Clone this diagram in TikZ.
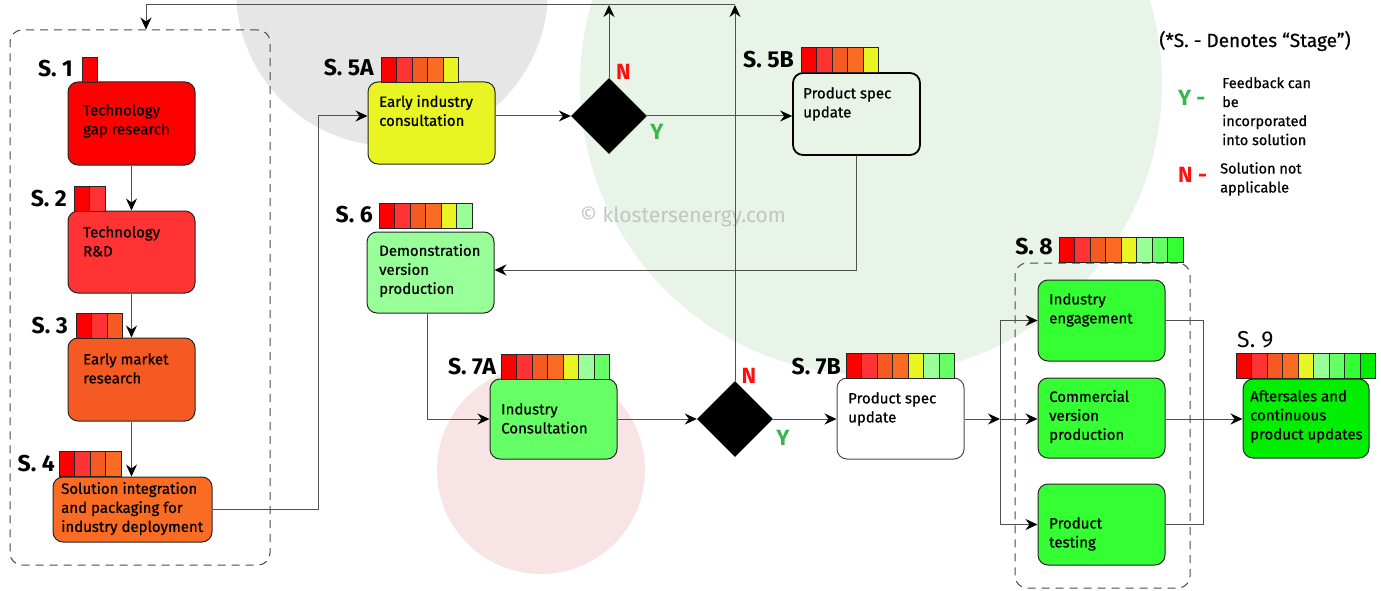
\documentclass[tikz,border=0pt]{standalone}
\usepackage{fontspec}
\setmainfont{Fira Sans}
\newfontfamily\medfont{Fira Sans}[FakeBold=0.6]
\usetikzlibrary{arrows.meta,shapes.geometric}

% stage level colours, from earliest to latest
\definecolor{lvA}{HTML}{FF0000}
\definecolor{lvB}{HTML}{FF3333}
\definecolor{lvC}{HTML}{F55A22}
\definecolor{lvD}{HTML}{FA6B24}
\definecolor{lvE}{HTML}{E8F522}
\definecolor{lvF}{HTML}{99FF99}
\definecolor{lvG}{HTML}{66FF66}
\definecolor{lvH}{HTML}{33FF33}
\definecolor{lvI}{HTML}{00EE00}
\definecolor{bgGray}{HTML}{E6E6E6}
\definecolor{bgGreen}{HTML}{E8F4E8}
\definecolor{bgPink}{HTML}{F8E4E4}
\definecolor{yesGreen}{HTML}{3AB54A}
\definecolor{noRed}{HTML}{FF1010}
\definecolor{wire}{HTML}{505050}
\definecolor{wmGray}{HTML}{C4C4C4}

% row of level cells: x, top y, number of cells
\newcommand{\levelbar}[3]{%
  \foreach \k/\cc in {1/lvA,2/lvB,3/lvC,4/lvD,5/lvE,6/lvF,7/lvG,8/lvH,9/lvI}{%
    \ifnum\k>#3\relax\else
      \filldraw[cellbox, fill=\cc] ({#1+(\k-1)*15.5},#2) rectangle ++(15.5,25);
    \fi}}

\begin{document}
\begin{tikzpicture}[x=1pt,y=-1pt,
  stbox/.style={draw=black!85, line width=1pt, rounded corners=10pt, inner sep=0pt},
  cellbox/.style={draw=black!85, line width=0.7pt},
  txt/.style={font=\medfont\fontsize{15}{19}\selectfont, align=left, inner sep=0pt, anchor=north west},
  stlabel/.style={font=\fontsize{23}{26}\selectfont\bfseries, inner sep=0pt, anchor=east},
  conn/.style={draw=wire, line width=1pt},
  arr/.style={conn, -{Stealth[length=12pt,width=11pt,inset=4pt,color=black]}},
  decision/.style={diamond, fill=black, minimum width=76pt, minimum height=76pt, inner sep=0pt},
  group/.style={draw=black!70, dash pattern=on 8pt off 6pt, line width=1pt, rounded corners=12pt, inner sep=0pt},
  yn/.style={font=\fontsize{22}{24}\selectfont\bfseries, inner sep=0pt},
  legtxt/.style={font=\medfont\fontsize{14.5}{19}\selectfont, align=left, inner sep=0pt, anchor=north west},
]
\useasboundingbox (0,0) rectangle (1381,591);
\fill[white] (0,0) rectangle (1381,591);

% soft background discs
\begin{scope}
  \clip (0,0) rectangle (1381,591);
  \fill[bgGray] (392,-10) circle (156pt);
  \fill[bgGreen] (871,84) circle (291pt);
  \fill[bgPink] (541,470) circle (104pt);
\end{scope}

% watermark
\node[font=\fontsize{21}{24}\selectfont, text=wmGray, inner sep=0pt] (wm) at (683,217) {© klostersenergy.com};

% group frames
\node[group, minimum width=260pt, minimum height=535pt] (grpL) at (140,297.5) {};
\node[group, minimum width=175pt, minimum height=325pt] (grpR) at (1102.5,425.5) {};

% stage boxes
\node[stbox, fill=lvA, minimum width=127pt, minimum height=83pt] (s1) at (131.5,123.5) {};
\node[stbox, fill=lvB, minimum width=127pt, minimum height=82pt] (s2) at (131.5,252) {};
\node[stbox, fill=lvC, minimum width=127pt, minimum height=83pt] (s3) at (131.5,379.5) {};
\node[stbox, fill=lvD, minimum width=159pt, minimum height=65pt] (s4) at (132.5,509.5) {};
\node[stbox, fill=lvE, minimum width=127pt, minimum height=82pt] (s5a) at (431.5,123) {};
\node[stbox, draw=black, line width=1.8pt, minimum width=127pt, minimum height=82pt] (s5b) at (856.5,114) {};
\node[stbox, fill=lvF, minimum width=127pt, minimum height=81pt] (s6) at (430.5,272.5) {};
\node[stbox, fill=lvG, minimum width=127pt, minimum height=80pt] (s7a) at (553.5,419) {};
\node[stbox, fill=white, draw=black!70, minimum width=127pt, minimum height=81pt] (s7b) at (900.5,418.5) {};
\node[stbox, fill=lvH, minimum width=127pt, minimum height=81pt] (s8a) at (1101.5,320.5) {};
\node[stbox, fill=lvH, minimum width=127pt, minimum height=80pt] (s8b) at (1101.5,418) {};
\node[stbox, fill=lvH, minimum width=127pt, minimum height=81pt] (s8c) at (1101.5,524.5) {};
\node[stbox, fill=lvI, minimum width=126pt, minimum height=79pt] (s9) at (1306,418.5) {};

% decisions
\node[decision] (d1) at (609,116) {};
\node[decision] (d2) at (735,419) {};

% box texts
\node[txt] (s1t) at (83,104) {Technology\\gap research};
\node[txt] (s2t) at (83,226) {Technology\\R\&D};
\node[txt] (s3t) at (83,353) {Early market\\research};
\node[txt] (s4t) at (61,482) {Solution integration\\and packaging for\\industry deployment};
\node[txt] (s5at) at (379,95) {Early industry\\consultation};
\node[txt] (s5bt) at (803,87) {Product spec\\update};
\node[txt] (s6t) at (379,244) {Demonstration\\version\\production};
\node[txt] (s7at) at (501,403) {Industry\\Consultation};
\node[txt] (s7bt) at (848,392) {Product spec\\update};
\node[txt] (s8at) at (1049,293) {Industry\\engagement};
\node[txt] (s8bt) at (1049,390) {Commercial\\version\\production};
\node[txt] (s8ct) at (1049,517) {Product\\testing};
\node[txt] (s9t) at (1250,390) {Aftersales and\\continuous\\product updates};

% stage labels
\node[stlabel] (s1l) at (73,69) {S. 1};
\node[stlabel] (s2l) at (67,199) {S. 2};
\node[stlabel] (s3l) at (68,326) {S. 3};
\node[stlabel] (s4l) at (55,464) {S. 4};
\node[stlabel] (s5al) at (374,68) {S. 5A};
\node[stlabel] (s5bl) at (794,59.5) {S. 5B};
\node[stlabel] (s6l) at (373,215) {S. 6};
\node[stlabel] (s7al) at (496,367) {S. 7A};
\node[stlabel] (s7bl) at (841,367) {S. 7B};
\node[stlabel] (s8l) at (1053,247) {S. 8};
\node[font=\fontsize{23}{26}\selectfont, inner sep=0pt, anchor=west] (s9l) at (1237,340) {S. 9};

% level bars
\levelbar{82}{57}{1}
\levelbar{74}{186}{2}
\levelbar{76}{313}{3}
\levelbar{59}{451}{4}
\levelbar{381}{57}{5}
\levelbar{801}{47}{5}
\levelbar{379}{203}{6}
\levelbar{501}{354}{7}
\levelbar{846}{353}{7}
\levelbar{1059}{237}{8}
\levelbar{1236}{353}{9}

% decision labels
\node[yn, text=noRed] (n1) at (623.5,72) {N};
\node[yn, text=yesGreen] (y1) at (657,132) {Y};
\node[yn, text=noRed] (n2) at (749,376) {N};
\node[yn, text=yesGreen] (y2) at (783,438) {Y};

% junction points
\coordinate (fbA) at (146,5);
\coordinate (j1) at (318,116);
\coordinate (j2) at (856.5,270);
\coordinate (j3) at (427,419);
\coordinate (busL) at (1000,419);
\coordinate (busR) at (1203,419);

% flow inside the first group
\draw[arr] (s1.south) -- (s2.north);
\draw[arr] (s2.south) -- (s3.north);
\draw[arr] (s3.south) -- (s4.north -| s3.south);

% into early industry consultation
\draw[arr] (s4.east) -| (j1) -- (s5a.west |- j1);
\draw[arr] (s5a.east |- d1.west) -- (d1.west);
\draw[arr] (d1.east) -- (s5b.west |- d1.east);

% feedback loop back to the start
\draw[arr] (d1.north) -- (d1.north |- fbA);
\draw[arr] (d2.north) -- (d2.north |- fbA);
\draw[arr] (d2.north |- fbA) -- (fbA) -- (fbA |- grpL.north);

% demonstration branch
\draw[arr] (s5b.south) -- (j2) -- (j2 -| s6.east);
\draw[arr] (s6.south -| j3) -- (j3) -- (s7a.west);
\draw[arr] (s7a.east) -- (d2.west);
\draw[arr] (d2.east) -- (s7b.west |- d2.east);

% fan out to stage 8 and merge into stage 9
\draw[arr] (s7b.east |- busL) -- (busL);
\draw[conn] (busL |- s8a.west) -- (busL |- s8c.west);
\draw[arr] (busL |- s8a.west) -- (s8a.west);
\draw[arr] (busL) -- (s8b.west |- busL);
\draw[arr] (busL |- s8c.west) -- (s8c.west);
\draw[conn] (s8a.east) -- (busR |- s8a.east) -- (busR |- s8c.east) -- (s8c.east);
\draw[arr] (s8b.east |- busL) -- (s9.west |- busL);

% legend
\node[font=\medfont\fontsize{19}{22}\selectfont, inner sep=0pt] (legT) at (1255,41) {(*S. - Denotes “Stage”)};
\node[yn, text=yesGreen, anchor=west] (legY) at (1178,98) {Y -};
\node[legtxt] (legYt) at (1222,77) {Feedback can\\be\\incorporated\\into solution};
\node[yn, text=noRed, anchor=west] (legN) at (1178,175) {N -};
\node[legtxt] (legNt) at (1220,162) {Solution not\\applicable};
\end{tikzpicture}
\end{document}
